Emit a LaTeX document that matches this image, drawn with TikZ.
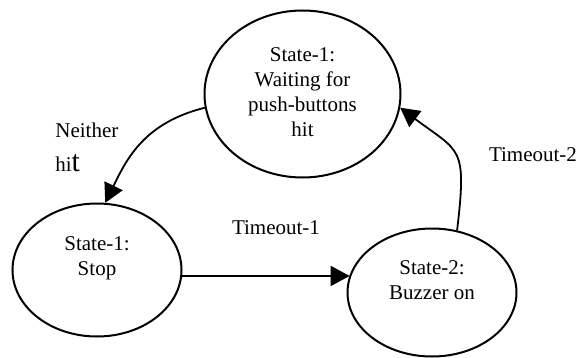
\documentclass[tikz,border=0pt]{standalone}
\usepackage{fontspec}
\setmainfont{Liberation Serif}
\usetikzlibrary{shapes.geometric,arrows.meta}
\begin{document}
\begin{tikzpicture}[x=0.5pt,y=-0.5pt,
  statebox/.style={draw,ellipse,line width=1pt,inner sep=0pt},
  lbl/.style={font=\fontsize{10.5}{12.5}\selectfont,align=center,inner sep=0pt},
  trans/.style={line width=0.9pt,-{Triangle[length=9.5pt,width=10pt]}}]
  \useasboundingbox (0,0) rectangle (578,358);
  % states (sizes in pt: one picture unit is half a point)
  \node[statebox,minimum width=98pt,minimum height=83.5pt] (wait) at (302.5,94) {};
  \node[statebox,minimum width=84.5pt,minimum height=66.5pt] (stop) at (97,270) {};
  \node[statebox,minimum width=84.5pt,minimum height=64pt] (buzz) at (432,292.5) {};
  % state texts
  \node[lbl] (waitT) at (302.5,92) {State-1:\\Waiting for\\push-buttons\\hit};
  \node[lbl] (stopT) at (97,258) {State-1:\\Stop};
  \node[lbl] (buzzT) at (432,280) {State-2:\\Buzzer on};
  % transitions
  \draw[trans] (wait.188) .. controls +(-60,15) and +(22,-45) .. (stop.83);
  \coordinate (t1start) at (stop.-4);
  \draw[trans] (t1start) -- (t1start -| buzz.168);
  \draw[trans] (buzz.68) .. controls +(10,-85) and +(60,45) .. (wait.352);
  % transition labels
  \node[lbl,anchor=west] (neither) at (55,130) {Neither};
  \node[lbl,anchor=west] (hit) at (55,163) {hi{\fontsize{15}{15}\selectfont t}};
  \node[lbl] (t1) at (276,228) {Timeout-1};
  \node[lbl] (t2) at (533,155) {Timeout-2};
\end{tikzpicture}
\end{document}
